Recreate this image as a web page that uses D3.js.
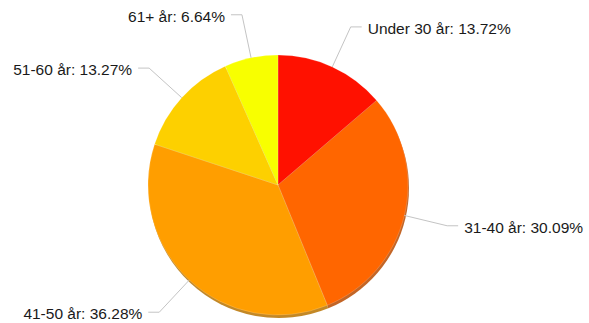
<!DOCTYPE html>
<html>
<head>
<meta charset="utf-8">
<script src="https://cdn.jsdelivr.net/npm/d3@7"></script>
<style>
  html, body { margin: 0; padding: 0; background: #fff; }
  svg { display: block; }
  text { font-family: "Liberation Sans", Arial, Helvetica, sans-serif; }
</style>
</head>
<body>
<div id="chart"></div>
<script>
// Age groups and their share of the total (%)
const categories = ["Under 30 år", "31-40 år", "41-50 år", "51-60 år", "61+ år"];
const shares = [13.72, 30.09, 36.28, 13.27, 6.64];
const colors = ["#ff1100", "#ff6600", "#ff9e00", "#fdd000", "#f8ff00"];

const width = 589, height = 323;
const cx = 278, cy = 185, radius = 130;
const elbow = 44;      // distance of the connector bend outside the rim
const run = 11;        // horizontal connector length
const gap = 6;         // space between connector and label

const svg = d3.select("#chart").append("svg")
  .attr("width", width).attr("height", height);

const data = categories.map((c, i) => ({ name: c, value: shares[i], color: colors[i] }));

const pie = d3.pie().value(d => d.value).sort(null);
const arcs = pie(data);
const arc = d3.arc().innerRadius(0).outerRadius(radius);

const g = svg.append("g").attr("transform", `translate(${cx},${cy})`);

// darker rim underneath, shifted down a little
g.append("g").attr("transform", "translate(1,3)")
  .selectAll("path").data(arcs).join("path")
  .attr("d", arc)
  .attr("fill", d => d3.color(d.data.color).darker(0.9))
  .attr("opacity", 0.85);

g.append("g").selectAll("path").data(arcs).join("path")
  .attr("d", arc)
  .attr("fill", d => d.data.color)
  .attr("stroke", "#ffffff")
  .attr("stroke-opacity", 0.35)
  .attr("stroke-width", 0.5);

// connectors and labels
const polar = (a, r) => [r * Math.sin(a), -r * Math.cos(a)];
const fmt = d3.format(".2f");

arcs.forEach(d => {
  const mid = (d.startAngle + d.endAngle) / 2;
  const right = Math.sin(mid) >= 0;
  const dir = right ? 1 : -1;
  const p0 = polar(mid, radius);
  const p1 = polar(mid, radius + elbow);
  const p2 = [p1[0] + dir * run, p1[1]];

  g.append("path")
    .attr("d", d3.line()([p0, p1, p2]))
    .attr("fill", "none")
    .attr("stroke", "#c4c4c4")
    .attr("stroke-width", 1);

  g.append("text")
    .attr("x", p2[0] + dir * gap)
    .attr("y", p2[1] + 7)
    .attr("text-anchor", right ? "start" : "end")
    .attr("font-size", "15.5px")
    .attr("fill", "#1a1a1a")
    .text(`${d.data.name}: ${fmt(d.data.value)}%`);
});
</script>
</body>
</html>
